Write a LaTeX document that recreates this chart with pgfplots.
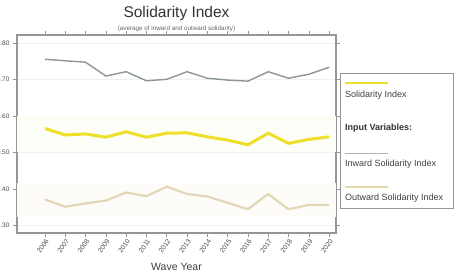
\documentclass[border=0pt]{standalone}
\usepackage{pgfplots}
\pgfplotsset{compat=1.18}
\usepackage{fontspec}
\setmainfont{Liberation Sans}
\definecolor{yel}{RGB}{238,224,40}
\definecolor{gre}{RGB}{140,150,150}
\definecolor{tan}{RGB}{228,214,184}
\definecolor{axc}{RGB}{150,150,150}
\begin{document}
\begin{tikzpicture}
\begin{axis}[
  scale only axis, width=319pt, height=198pt,
  xmin=-1.38, xmax=14.34, ymin=0.2788, ymax=0.8228,
  xtick={0,...,14},
  xticklabels={2006,2007,2008,2009,2010,2011,2012,2013,2014,2015,2016,2017,2018,2019,2020},
  x tick label style={rotate=55, anchor=north east, font=\fontsize{6.8}{7}\selectfont, text=black!70, inner sep=0.8pt},
  ytick={0.3,0.4,0.5,0.6,0.7,0.8},
  yticklabels={0.30,0.40,0.50,0.60,0.70,0.80},
  y tick label style={font=\fontsize{6.5}{7}\selectfont, text=black!70},
  tick align=outside, major tick length=4pt,
  tick style={axc, line width=0.6pt},
  axis line style={axc, line width=1.2pt},
  ymajorgrids, grid style={black!6, line width=0.6pt},
  xlabel={Wave Year}, xlabel style={font=\fontsize{10.5}{12}\selectfont, text=black!75, at={(axis description cs:0.5,0)}, anchor=center, yshift=-34pt},
  clip=false,
]
\addplot[fill=yel!3, draw=none, forget plot] coordinates {(-1.38,0.50) (14.34,0.50) (14.34,0.60) (-1.38,0.60)} -- cycle;
\addplot[fill=tan!8, draw=none, forget plot] coordinates {(-1.38,0.323) (14.34,0.323) (14.34,0.416) (-1.38,0.416)} -- cycle;
\addplot[gre, line width=1.4pt] coordinates {
(0,0.756) (1,0.752) (2,0.748) (3,0.710) (4,0.722) (5,0.697) (6,0.701) (7,0.722)
(8,0.704) (9,0.699) (10,0.696) (11,0.722) (12,0.704) (13,0.715) (14,0.734)};
\addplot[tan, line width=2.2pt] coordinates {
(0,0.371) (1,0.351) (2,0.360) (3,0.368) (4,0.390) (5,0.380) (6,0.406) (7,0.386)
(8,0.379) (9,0.362) (10,0.344) (11,0.386) (12,0.344) (13,0.356) (14,0.356)};
\addplot[yel, line width=3pt] coordinates {
(0,0.566) (1,0.548) (2,0.551) (3,0.542) (4,0.557) (5,0.542) (6,0.553) (7,0.554)
(8,0.543) (9,0.534) (10,0.521) (11,0.553) (12,0.525) (13,0.536) (14,0.543)};
\end{axis}
% title
\node[font=\fontsize{15.5}{17}\selectfont, text=black!80] at (159.5pt,220pt) {Solidarity Index};
\node[font=\fontsize{6.3}{7}\selectfont, text=black!60] at (159.5pt,204pt) {(average of inward and outward solidarity)};
% legend
\draw[axc, line width=0.8pt, fill=white] (323pt,25pt) rectangle (436pt,160pt);
\draw[yel, line width=2.6pt] (328pt,150pt) -- (371pt,150pt);
\node[anchor=west, inner sep=0pt, font=\fontsize{9}{10}\selectfont, text=black!75] at (328pt,138pt) {Solidarity Index};
\node[anchor=west, inner sep=0pt, font=\fontsize{9}{10}\selectfont\bfseries, text=black!80] at (328pt,105pt) {Input Variables:};
\draw[gre!70, line width=1pt] (328pt,80pt) -- (371pt,80pt);
\node[anchor=west, inner sep=0pt, font=\fontsize{9}{10}\selectfont, text=black!75] at (328pt,69pt) {Inward Solidarity Index};
\draw[tan!90!yel, line width=1.2pt] (328pt,46pt) -- (371pt,46pt);
\node[anchor=west, inner sep=0pt, font=\fontsize{9}{10}\selectfont, text=black!75] at (328pt,35pt) {Outward Solidarity Index};
\pgfresetboundingbox
\useasboundingbox (-17pt,-41pt) rectangle (440pt,233pt);
\end{tikzpicture}
\end{document}
